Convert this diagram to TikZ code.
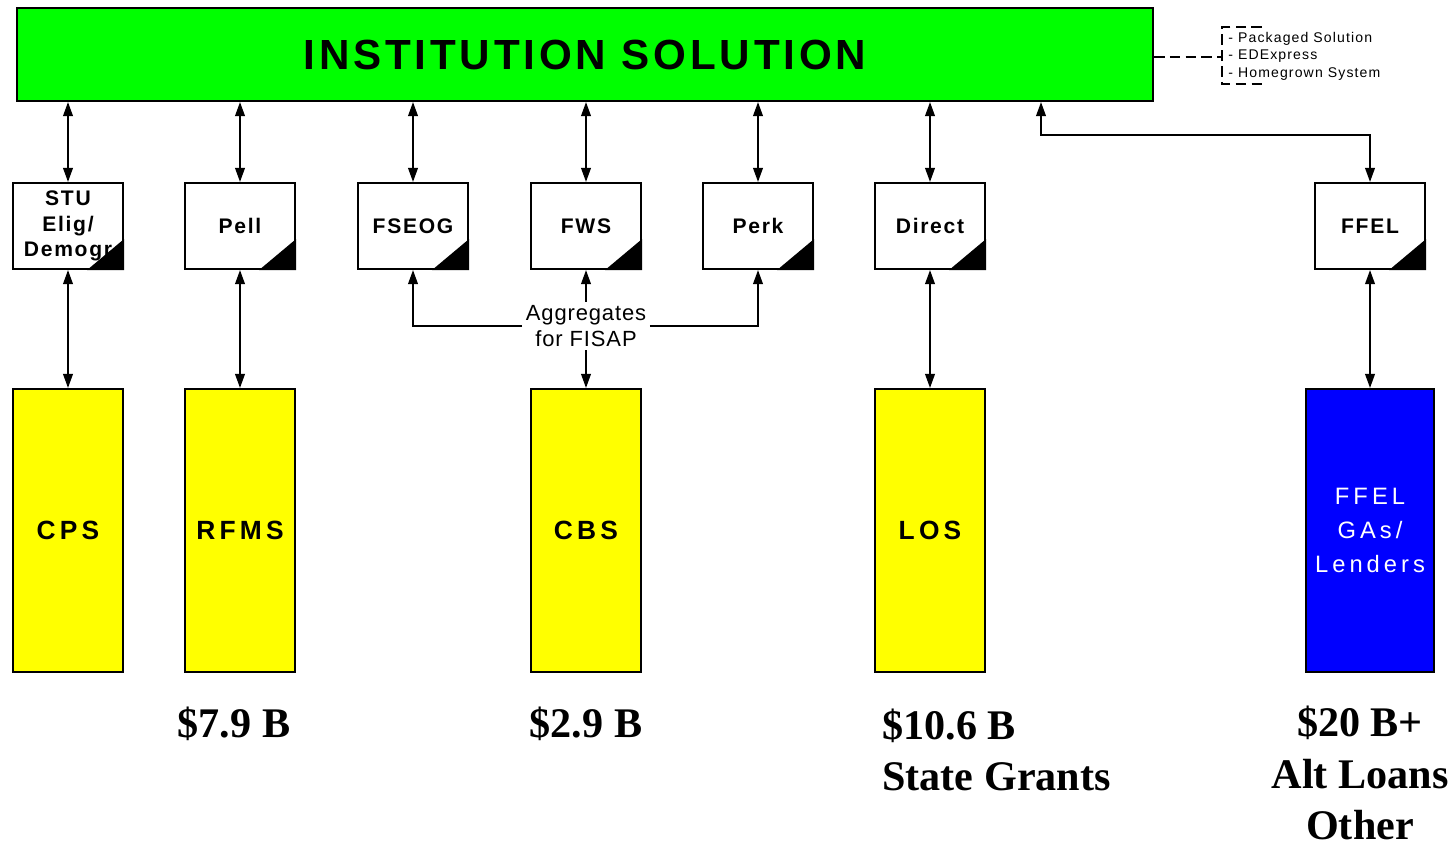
\documentclass[tikz,border=0pt]{standalone}
\usepackage{fontspec}
\setmainfont{Liberation Sans}
\newfontfamily\amountfont{Liberation Serif}
\usetikzlibrary{arrows.meta}

\definecolor{instgreen}{RGB}{0,255,0}
\definecolor{sysyellow}{RGB}{255,255,0}
\definecolor{ffelblue}{RGB}{0,0,255}

\begin{document}
\begin{tikzpicture}[x=0.02cm, y=-0.02cm,
    box/.style={draw, line width=1.2pt, inner sep=1pt, align=center},
    inst/.style={box, fill=instgreen, minimum width=22.72cm, minimum height=1.86cm,
      font=\fontsize{24}{28}\selectfont\bfseries\addfontfeature{LetterSpace=9}},
    prog/.style={box, fill=white, minimum width=2.2cm, minimum height=1.72cm,
      font=\fontsize{12}{14.7}\selectfont\bfseries\addfontfeature{LetterSpace=8}},
    sys/.style={box, fill=sysyellow, minimum width=2.2cm, minimum height=5.66cm,
      font=\fontsize{15}{18}\selectfont\bfseries\addfontfeature{LetterSpace=16}},
    lender/.style={box, fill=ffelblue, text=white, minimum width=2.56cm, minimum height=5.66cm,
      font=\fontsize{13.5}{19.3}\selectfont\addfontfeature{LetterSpace=17}},
    link/.style={line width=1pt, >={Triangle[length=8pt,width=5.5pt]}},
    legendline/.style={line width=0.9pt, dash pattern=on 6pt off 3pt},
    amount/.style={inner sep=0pt, font=\amountfont\fontsize{24}{29.5}\selectfont\bfseries}]
  \useasboundingbox (0,0) rectangle (1452,848);

  % top
  \node[inst] (inst) at (585,54.5) {INSTITUTION SOLUTION};

  % aid programs
  \foreach \n/\x/\t in {stu/68/{STU\\Elig/\\Demogr}, pell/240/Pell, fseog/413/FSEOG,
      fws/586/FWS, perk/758/Perk, direct/930/Direct, ffel/1370/FFEL}{
    \node[prog] (\n) at (\x,226) {\t};
    \fill (\n.south east) -- ++(-37,0) -- ++(37,-31) -- cycle;
    }

  % systems
  \node[sys] (cps) at (68,530.5) {CPS};
  \node[sys] (rfms) at (240,530.5) {RFMS};
  \node[sys] (cbs) at (586,530.5) {CBS};
  \node[sys] (los) at (930,530.5) {LOS};
  \node[lender] (gas) at (1370,530.5) {FFEL\\GAs/\\Lenders};

  % links to institution
  \foreach \n in {stu,pell,fseog,fws,perk,direct}
    \draw[link,<->] (inst.south -| \n.north) -- (\n.north);
  \coordinate (ffelbend) at (1041,135);
  \draw[link,<->] (inst.south -| ffelbend) -- (ffelbend) -| (ffel.north);

  % links to systems
  \draw[link,<->] (stu.south) -- (cps.north);
  \draw[link,<->] (pell.south) -- (rfms.north);
  \draw[link,<->] (direct.south) -- (los.north);
  \draw[link,<->] (ffel.south) -- (gas.north);

  % FISAP
  \node[inner sep=2pt, align=center, font=\fontsize{12.5}{14.7}\selectfont\addfontfeature{LetterSpace=4}]
    (agg) at (586,326) {Aggregates\\for FISAP};
  \draw[link,->] (agg.west) -| (fseog.south);
  \draw[link,->] (agg.east) -| (perk.south);
  \draw[link,->] (agg.north) -- (fws.south);
  \draw[link,->] (agg.south) -- (cbs.north);

  % vendor options
  \node[anchor=west, align=left, inner sep=0pt,
    font=\fontsize{8}{9.9}\selectfont\addfontfeature{LetterSpace=8}]
    (opts) at (1228,56) {- Packaged Solution\\- EDExpress\\- Homegrown System};
  \coordinate (brk) at (1222,57);
  \draw[legendline] (inst.east |- brk) -- (brk);
  \draw[legendline] (1262,27) -- (1222,27) -- (1222,84) -- (1262,84);

  % dollars
  \node[amount] (pellamt) at (234,724) {\$7.9 B};
  \node[amount] (cbsamt) at (586,724) {\$2.9 B};
  \node[amount, anchor=west, align=left] (losamt) at (882,750) {\$10.6 B\\State Grants};
  \node[amount, align=center] (ffelamt) at (1360,773) {\$20 B+\\Alt Loans\\Other};
\end{tikzpicture}
\end{document}
